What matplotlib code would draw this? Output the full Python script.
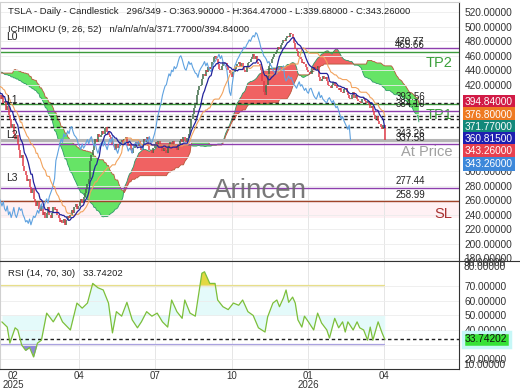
import numpy as np
import pandas as pd
import matplotlib
matplotlib.use('Agg')
import matplotlib.pyplot as plt
from matplotlib.lines import Line2D

plt.rcParams['font.family'] = ['Liberation Sans', 'DejaVu Sans']

# ---- data ----
# closes before the first visible bar (needed for the ichimoku lines)
pre_closes = [
  425, 430, 428, 420, 418, 415, 418, 422, 426, 430,
  410, 418, 425, 432, 440, 445, 450, 455, 458, 462,
  460, 458, 462, 455, 458, 452, 450, 446, 452, 448,
  445, 440, 446, 438, 432, 436, 428, 432, 425, 430,
  436, 442, 438, 445, 440, 436, 442, 438, 434, 438,
  432, 436, 430, 434, 428, 432, 426, 430, 425, 428,
  422, 426, 420, 424, 418, 422, 415, 420, 412, 418,
  410, 415, 408, 412, 405, 408, 402, 405]

# visible daily closes
closes = [
  400, 406, 395, 398, 385, 390, 378, 372, 360, 366,
  352, 345, 350, 338, 330, 318, 322, 308, 300, 295,
  286, 290, 278, 270, 276, 262, 258, 252, 258, 248,
  245, 252, 240, 244, 236, 242, 250, 240, 236, 242,
  250, 246, 248, 240, 236, 230, 232, 228, 234, 226,
  232, 238, 236, 240, 246, 242, 250, 255, 248, 252,
  258, 262, 256, 265, 270, 275, 282, 290, 315, 322,
  330, 338, 345, 340, 352, 348, 350, 356, 352, 360,
  362, 355, 350, 348, 345, 338, 335, 330, 338, 332,
  335, 340, 344, 338, 345, 348, 340, 335, 338, 330,
  325, 332, 338, 340, 335, 342, 335, 330, 338, 345,
  340, 348, 335, 330, 330, 325, 332, 338, 340, 335,
  342, 338, 335, 328, 332, 330, 325, 334, 338, 340,
  336, 342, 338, 335, 330, 338, 342, 345, 340, 348,
  342, 340, 346, 352, 360, 372, 380, 388, 395, 405,
  412, 418, 420, 428, 435, 432, 440, 438, 445, 442,
  445, 452, 458, 460, 455, 448, 442, 440, 446, 452,
  448, 450, 444, 440, 436, 435, 430, 438, 442, 445,
  448, 452, 446, 450, 444, 440, 438, 445, 450, 452,
  455, 458, 462, 456, 460, 452, 448, 446, 440, 425,
  410, 405, 420, 432, 446, 450, 455, 458, 462, 465,
  468, 472, 470, 475, 478, 482, 480, 485, 488, 486,
  492, 490, 484, 478, 470, 466, 460, 458, 455, 450,
  452, 448, 445, 440, 438, 435, 435, 440, 444, 440,
  440, 446, 430, 425, 428, 432, 428, 430, 425, 420,
  418, 415, 420, 424, 418, 420, 416, 412, 415, 410,
  408, 414, 415, 410, 405, 402, 400, 405, 410, 402,
  405, 400, 398, 396, 395, 400, 402, 398, 395, 398,
  392, 388, 390, 384, 378, 372, 376, 370, 366, 362,
  358, 364, 343.26]

rsi_idx = [1, 5, 7, 11, 13, 16, 19, 22, 25, 28,
           31, 35, 40, 44, 47, 53, 58, 62, 66, 70,
           74, 78, 82, 85, 88, 92, 96, 100, 104, 107,
           111, 115, 119, 123, 127, 130, 134, 138, 140, 144,
           148, 153, 155, 159, 163, 165, 169, 173, 177, 181,
           184, 188, 192, 196, 201, 203, 207, 210, 212, 215,
           217, 219, 222, 224, 226, 229, 231, 234, 238, 241,
           244, 248, 250, 254, 257, 260, 262, 264, 268, 271,
           273, 276, 279, 281, 283, 287, 290, 292]
rsi_vals = [45.5, 42, 31, 41.5, 40, 29.7, 26, 28, 21.5, 31,
            33, 51.6, 45.6, 51.6, 45.6, 40, 58.5, 55, 58.5, 72,
            69, 67.5, 58.5, 38, 52.6, 49.5, 59, 47, 41.5, 45.6,
            52.6, 49.5, 51.6, 45.6, 42, 60.6, 52.6, 48, 60.6, 51.6,
            49.5, 79, 80, 72, 72, 60.6, 56, 54, 58.5, 57,
            60.6, 52.6, 50, 41.5, 38.6, 49, 58.5, 60.6, 56, 62,
            67.5, 59, 62.6, 58.5, 47, 42, 49.5, 45.6, 40, 51.6,
            44.8, 40, 34.5, 48, 41.5, 45.6, 38.6, 45.6, 40, 45.6,
            41.5, 40, 33, 42, 33, 45.6, 38, 33.74]

month_pos = [9.4, 59.6, 117.4, 175.9, 233.7, 291.5]
month_lbl = ['02\n2025', '04', '07', '10', '01\n2026', '04']

# horizontal levels
level_vals = [470.77, 465.66, 393.56, 384.10, 337.58, 277.44, 258.99]
level_cols = ['#8e3fae', '#3c9a3c', '#3c9a3c', '#8e3fae', '#8e3fae', '#8e3fae', '#a0442a']
ichi_vals = [394.84, 376.80, 371.77, 360.815]
ichi_cols = ['#d11a46', '#ee7a22', '#12887a', '#1e1eb0']
last_close = 343.26
last_rsi = 33.74202

# ---- indicators ----
n_pre = len(pre_closes)
s = pd.Series(pre_closes + closes, dtype=float)
idx = np.arange(len(s)) - n_pre
def mid(n):
  return (s.rolling(n).max() + s.rolling(n).min()) / 2.
tenkan = mid(9)
kijun = mid(26)
span_a = (tenkan + kijun) / 2.
span_b = mid(52)

W, H = 520, 390
fig = plt.figure(figsize=(W/100., H/100.), dpi=100)
ax = fig.add_axes([0, 1-261/H, 459/W, 259/H])
ar = fig.add_axes([0, 1-369/H, 459/W, 108/H])

# cloud (plotted 26 bars ahead)
cx = idx + 26
a = span_a.values; b = span_b.values
ax.fill_between(cx, a, b, where=a >= b, color='#f06262', interpolate=True, lw=0, zorder=1)
ax.fill_between(cx, a, b, where=a < b, color='#66e466', interpolate=True, lw=0, zorder=1)
ax.plot(cx, a, color='#2e9a68', lw=0.6, zorder=1.5)
ax.plot(cx, b, color='#b8563a', lw=0.6, zorder=1.5)

# level lines
ax.axhspan(236, 258.99, color='#fff1f4', lw=0, zorder=0)
for v, c in zip(level_vals, level_cols):
  ax.axhline(v, color=c, lw=1.0, zorder=2)
ax.axhline(last_close, color='#b4b4b4', lw=2.2, zorder=2)
for v in ichi_vals:
  ax.axhline(v, color='#222222', lw=1.0, ls=(0, (2.5, 2)), zorder=2.2)

# candles (open = previous close)
cl = s.values
op = np.r_[cl[0], cl[:-1]]
vis = idx >= 0
up = vis & (cl >= op)
dn = vis & (cl < op)
ax.vlines(idx[up], op[up], cl[up], color='#3f6b48', lw=1.1, zorder=3)
ax.vlines(idx[dn], cl[dn], op[dn], color='#e03a48', lw=1.1, zorder=3)

# ichimoku lines
ax.plot(idx - 26, cl, color='#5fa2e0', lw=0.8, zorder=3.5)
ax.plot(idx, kijun, color='#f2a35e', lw=0.8, zorder=3.6)
ax.plot(idx, tenkan, color='#23239c', lw=0.9, zorder=3.7)

ax.set_xlim(-0.5, 348.5)
ax.set_ylim(175.9, 534.4)

# level texts
for v, t in [(470.77, '470.77'), (465.66, '465.66'), (393.56, '393.56'), (384.10, '384.10'),
             (343.26, '343.26'), (337.58, '337.58'), (277.44, '277.44'), (258.99, '258.99')]:
  ax.annotate(t, (300, v), xytext=(0, 1), textcoords='offset points', fontsize=7, color='#222222',
              va='bottom', ha='left', zorder=4)
for t, yv in [('L0', 486), ('L1', 398.7), ('L2', 350.3), ('L3', 290.8)]:
  ax.text(4, yv, t, fontsize=7.5, color='#222222', va='center', ha='left', zorder=4)
ax.text(333, 450, 'TP2', fontsize=10.5, color='#3ca03c', va='center', ha='center', zorder=4)
ax.text(333, 378, 'TP1', fontsize=10.5, color='#3ca03c', va='center', ha='center', zorder=1.8)
ax.text(324, 326.6, 'At Price', fontsize=10.5, color='#a0a0a0', va='center', ha='center', zorder=4)
ax.text(336.5, 240.8, 'SL', fontsize=10.5, color='#a83232', va='center', ha='center', zorder=4)
ax.text(197, 273, 'Arincen', fontsize=20, color='#6a6a6a', va='center', ha='center', alpha=0.9, zorder=4)

yt = np.arange(180, 521, 20)
ax.set_yticks(yt)
ax.set_yticklabels(['%.5f' % v for v in yt])
ax.yaxis.tick_right()
ax.tick_params(axis='y', length=0, pad=4, labelsize=7.3, labelcolor='#333333')
ax.set_xticks([])
ax.grid(axis='y', color='#ececec', lw=0.6)
for p in month_pos[1:]:
  ax.axvline(p, color='#e6e6e6', lw=0.7, zorder=0.5)
for sp in ['left', 'top']:
  ax.spines[sp].set_color('#d0d0d0')
for sp in ['right', 'bottom']:
  ax.spines[sp].set_color('#333333')

# ---- RSI panel ----
ri = np.array(rsi_idx, dtype=float)
rv = np.array(rsi_vals)
ar.fill_between(ri, rv, 50, color='#e4fafa', lw=0, zorder=0.8)
ar.fill_between(ri, rv, 70, where=rv > 70, color='#e2d840', interpolate=True, lw=0, zorder=1)
ar.fill_between(ri, rv, 30, where=rv < 30, color='#8c88d8', interpolate=True, lw=0, zorder=1)
ar.hlines(70, -0.5, 292, color='#e8df8a', lw=1.6, zorder=1.2)
ar.hlines(30, -0.5, 292, color='#aaa2e0', lw=1.6, zorder=1.2)
ar.axhline(last_rsi, color='#222222', lw=1.0, ls=(0, (2.5, 2)), zorder=1.4)
ar.plot(ri, rv, color='#7cbf3a', lw=0.9, zorder=2)
ar.set_xlim(-0.5, 348.5)
ar.set_ylim(13.2, 87.4)
rt = np.arange(20, 71, 10)
ar.set_yticks(rt)
ar.set_yticklabels(['%.5f' % v for v in rt])
ar.yaxis.tick_right()
ar.tick_params(axis='y', length=0, pad=4, labelsize=7.3, labelcolor='#333333')
ar.set_xticks(month_pos)
ar.set_xticklabels(month_lbl)
ar.tick_params(axis='x', length=0, pad=1.5, labelsize=7, labelcolor='#333333')
for lb in ar.get_xticklabels():
  lb.set_linespacing(0.85)
ar.grid(axis='y', color='#ececec', lw=0.6)
for p in month_pos[1:]:
  ar.axvline(p, color='#e6e6e6', lw=0.7, zorder=0.5)
ar.spines['left'].set_color('#d0d0d0')
for sp in ['right', 'bottom', 'top']:
  ar.spines[sp].set_color('#333333')

fig.text(463/W, 1-263.5/H, '90.00000', fontsize=7.3, color='#333333', va='center')
fig.text(463/W, 1-267/H, '80.00000', fontsize=7.3, color='#333333', va='center')
fig.text(463/W, 1-364.5/H, '10.00000', fontsize=7.3, color='#333333', va='center')

# separator line
fig.add_artist(Line2D([459/W, 1], [1-261/H, 1-261/H], color='#333333', lw=0.8))

# headers
fig.text(8/W, 1-12/H, 'TSLA - Daily - Candlestick   296/349 - O:363.90000 - H:364.47000 - L:339.68000 - C:343.26000',
         fontsize=6.8, color='#222222', va='center')
fig.text(8/W, 1-29/H, 'ICHIMOKU (9, 26, 52)   n/a/n/a/n/a/371.77000/394.84000',
         fontsize=6.8, color='#222222', va='center')
fig.text(8/W, 1-273/H, 'RSI (14, 70, 30)   33.74202', fontsize=6.8, color='#222222', va='center')

# value boxes on the price axis
box_vals = ichi_vals + [last_close, last_close]
box_cols = ichi_cols + ['#e8404e', '#3d88da']
box_y = [102.3, 114.6, 126.9, 139.2, 151.5, 163.8]
for v, c, py in zip(box_vals, box_cols, box_y):
  fig.text(465/W, 1-py/H, '%.5f' % v, fontsize=7.3, color='white', va='center', ha='left',
           bbox=dict(boxstyle='square,pad=0.22', fc=c, ec='none'))
fig.text(465/W, 1-339.5/H, '%.5f' % last_rsi, fontsize=7.3, color='#111111', va='center', ha='left',
         bbox=dict(boxstyle='square,pad=0.22', fc='#36e236', ec='#c6f7f7', lw=2.5))

fig.savefig('out.png', dpi=100, facecolor='white')
